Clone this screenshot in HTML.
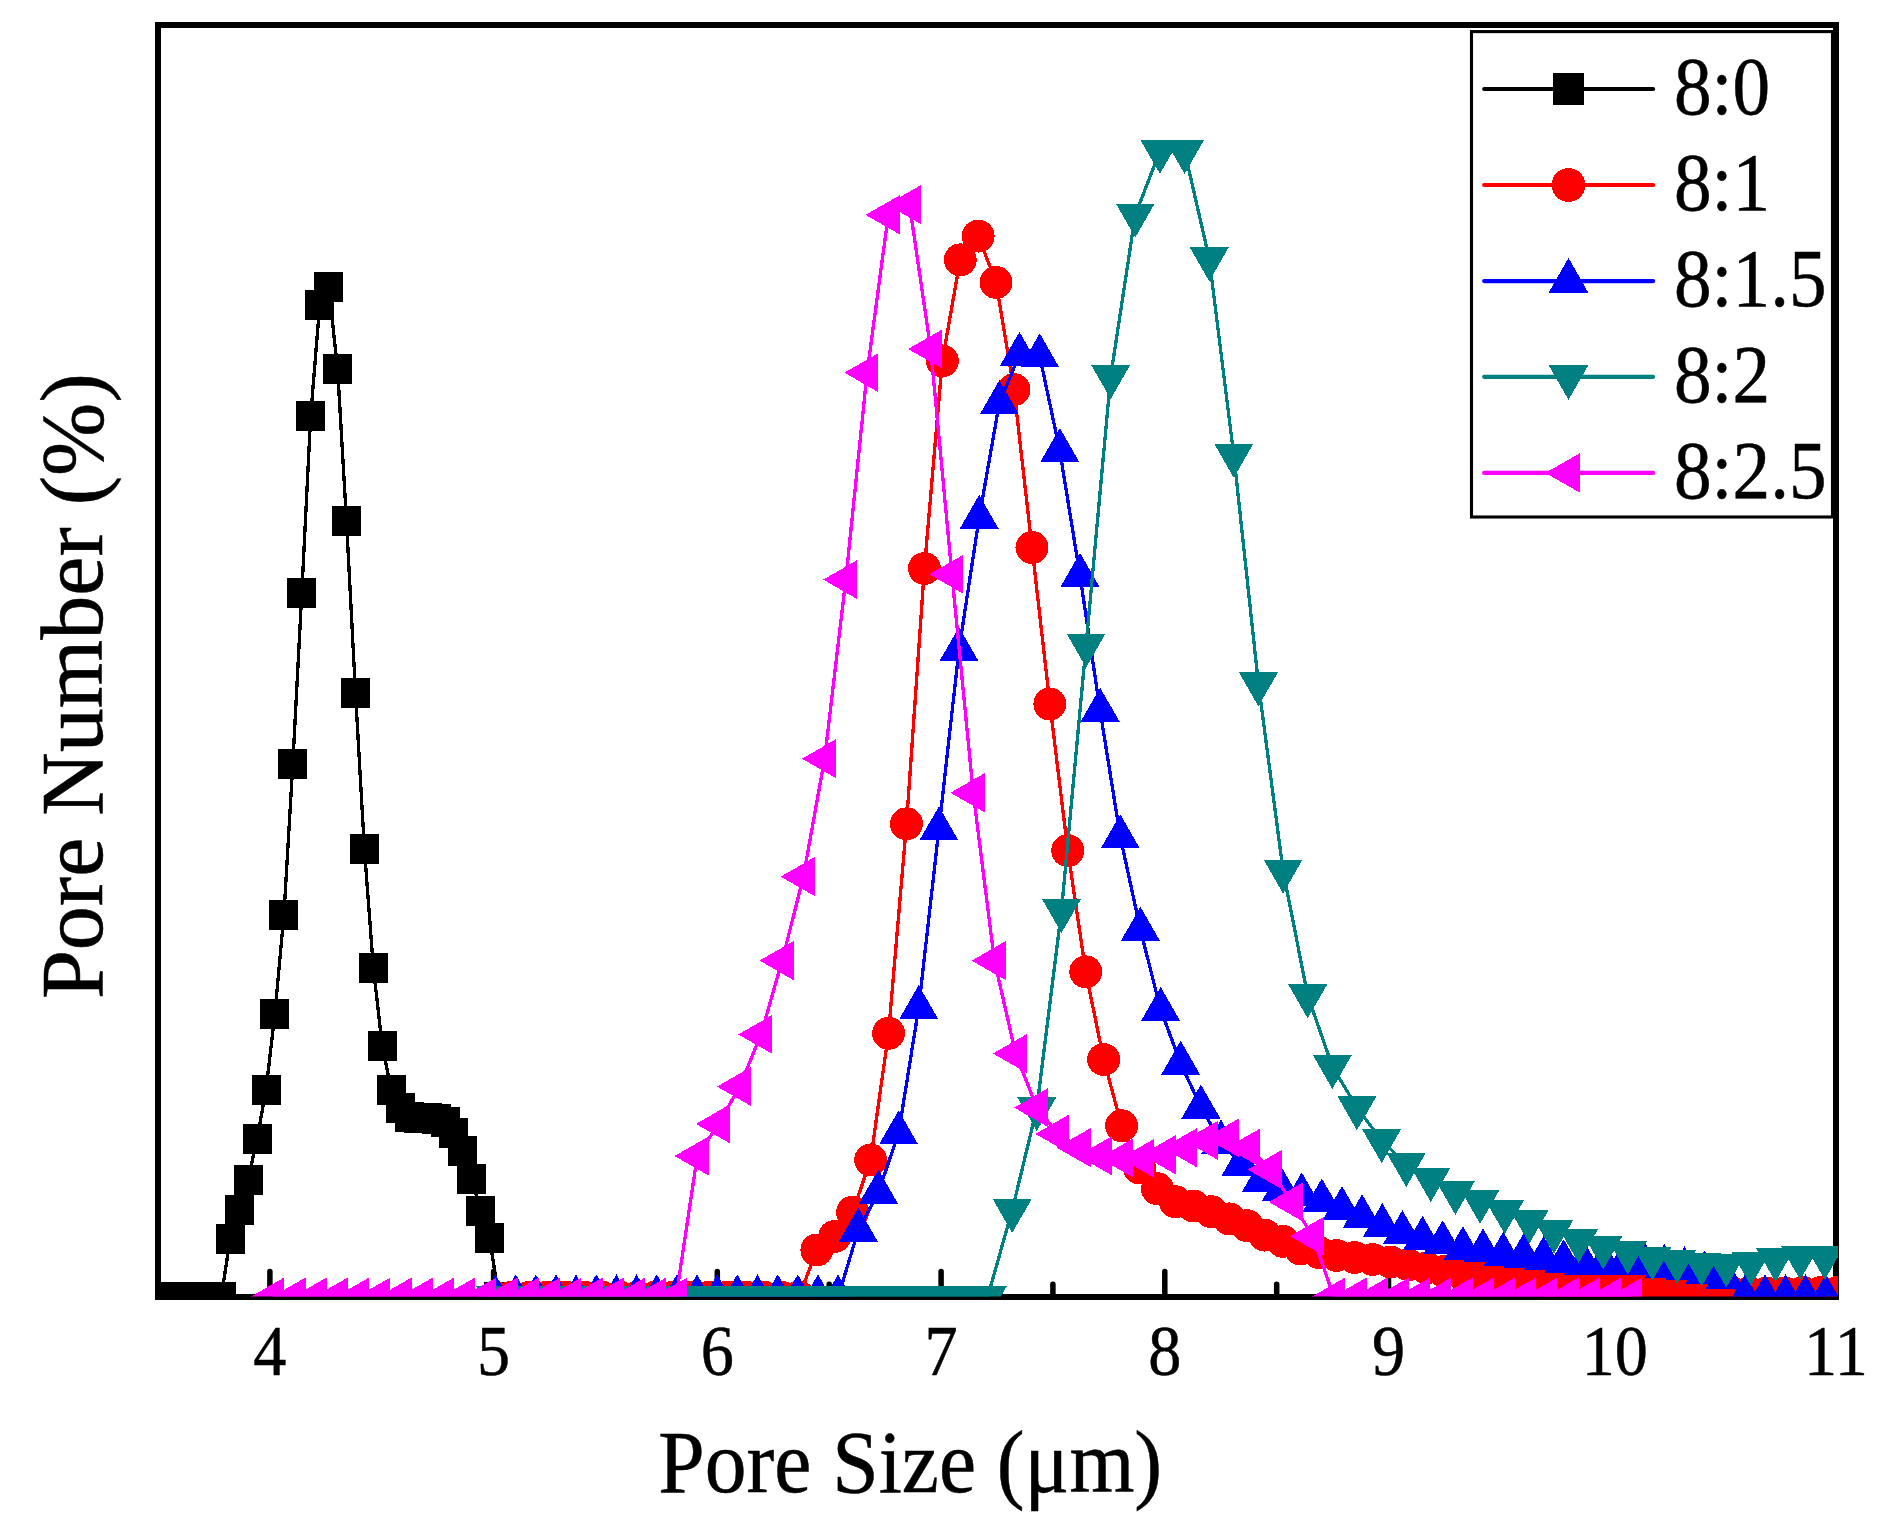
<!DOCTYPE html>
<html lang="en"><head><meta charset="utf-8"><title>Pore size distribution</title>
<style>html,body{margin:0;padding:0;background:#fff}svg{display:block}text{font-family:"Liberation Serif","Times New Roman",serif;fill:#000;stroke:#000;stroke-width:0.5px}</style></head>
<body>
<svg width="1890" height="1523" viewBox="0 0 1890 1523">
<rect width="1890" height="1523" fill="#fff"/>
<defs><clipPath id="c"><rect x="155" y="25" width="1683" height="1271.6"/></clipPath></defs>
<rect x="158" y="25" width="1678" height="1272" fill="none" stroke="#000" stroke-width="6"/>
<path d="M269.9 1297V1271.5M493.6 1297V1271.5M717.3 1297V1271.5M941.1 1297V1271.5M1164.8 1297V1271.5M1388.5 1297V1271.5M1612.3 1297V1271.5M381.7 1297V1287M605.5 1297V1287M829.2 1297V1284.3M1052.9 1297V1284.3M1276.7 1297V1284.3M1500.4 1297V1284.3M1724.1 1297V1284.3" stroke="#000" stroke-width="5.5" stroke-linecap="round" fill="none"/>
<g clip-path="url(#c)" shape-rendering="crispEdges">
<path d="M158.6 1297L167.5 1297L176.5 1297L185.4 1297L194.4 1297L203.3 1297L212.3 1297L221.2 1297L230.2 1238.9L239.1 1209.5L248.1 1179.5L257 1139.1L266 1090L274.9 1013.8L283.9 914.9L292.8 764.1L301.8 592.7L310.7 415.7L319.7 304.9L328.6 286.8L337.6 368.7L346.5 520.8L355.5 693L364.4 849L373.4 968L382.3 1046.4L391.3 1089.5L400.2 1108.4L409.2 1116.8L418.1 1117.6L427.1 1118.1L436 1118.6L445 1121.5L453.9 1133.3L462.9 1151.4L471.8 1179.3L480.8 1210.5L489.7 1238.4L498.7 1297" fill="none" stroke="#000000" stroke-width="3.3" stroke-linejoin="round"/>
<path d="M144.1 1282h29v30h-29zM153 1282h29v30h-29zM162 1282h29v30h-29zM170.9 1282h29v30h-29zM179.9 1282h29v30h-29zM188.8 1282h29v30h-29zM197.8 1282h29v30h-29zM206.7 1282h29v30h-29zM215.7 1223.9h29v30h-29zM224.6 1194.5h29v30h-29zM233.6 1164.5h29v30h-29zM242.5 1124.1h29v30h-29zM251.5 1075h29v30h-29zM260.4 998.8h29v30h-29zM269.4 899.9h29v30h-29zM278.3 749.1h29v30h-29zM287.3 577.7h29v30h-29zM296.2 400.7h29v30h-29zM305.2 289.9h29v30h-29zM314.1 271.8h29v30h-29zM323.1 353.7h29v30h-29zM332 505.8h29v30h-29zM341 678h29v30h-29zM349.9 834h29v30h-29zM358.9 953h29v30h-29zM367.8 1031.4h29v30h-29zM376.8 1074.5h29v30h-29zM385.7 1093.4h29v30h-29zM394.7 1101.8h29v30h-29zM403.6 1102.6h29v30h-29zM412.6 1103.1h29v30h-29zM421.5 1103.6h29v30h-29zM430.5 1106.5h29v30h-29zM439.4 1118.3h29v30h-29zM448.4 1136.4h29v30h-29zM457.3 1164.3h29v30h-29zM466.3 1195.5h29v30h-29zM475.2 1223.4h29v30h-29zM484.2 1282h29v30h-29z" fill="#000000"/>
<path d="M494.2 1297L512.1 1297L530 1297L548 1297L565.9 1297L583.8 1297L601.8 1297L619.7 1297L637.6 1297L655.5 1297L673.5 1297L691.4 1297L709.3 1297L727.2 1297L745.1 1297L763.1 1297L781 1297L798.9 1297L816.9 1250L834.8 1236.4L852.7 1212.2L870.6 1159.9L888.5 1033.3L906.5 823.8L924.4 568.5L942.3 360.9L960.2 259.8L978.2 236.1L996.1 282.4L1014 389.6L1032 547.5L1049.9 704L1067.8 850.6L1085.7 971.8L1103.7 1059.5L1121.6 1125.7L1139.5 1168L1157.4 1188.7L1175.3 1201.7L1193.3 1206L1211.2 1211.7L1229.1 1218.9L1247 1225.7L1265 1235.1L1282.9 1241.4L1300.8 1249L1318.8 1252.5L1336.7 1255.5L1354.6 1257.5L1372.5 1259.5L1390.5 1262L1408.4 1264.8L1426.3 1268L1444.2 1271.5L1462.2 1274L1480.1 1275.5L1498 1277L1515.9 1278.5L1533.9 1280L1551.8 1281.5L1569.7 1283L1587.6 1284.5L1605.6 1286L1623.5 1287L1641.4 1288L1659.3 1289L1677.2 1290L1695.2 1291L1713.1 1292L1731 1292.5L1749 1293L1766.9 1293L1784.8 1293L1802.7 1292.5L1820.7 1292.5L1838.6 1292" fill="none" stroke="#ff0000" stroke-width="3.3" stroke-linejoin="round"/>
<path d="M477.8 1297a16.4 16.4 0 1 0 32.9 0a16.4 16.4 0 1 0 -32.9 0zM495.7 1297a16.4 16.4 0 1 0 32.9 0a16.4 16.4 0 1 0 -32.9 0zM513.6 1297a16.4 16.4 0 1 0 32.9 0a16.4 16.4 0 1 0 -32.9 0zM531.5 1297a16.4 16.4 0 1 0 32.9 0a16.4 16.4 0 1 0 -32.9 0zM549.4 1297a16.4 16.4 0 1 0 32.9 0a16.4 16.4 0 1 0 -32.9 0zM567.4 1297a16.4 16.4 0 1 0 32.9 0a16.4 16.4 0 1 0 -32.9 0zM585.3 1297a16.4 16.4 0 1 0 32.9 0a16.4 16.4 0 1 0 -32.9 0zM603.2 1297a16.4 16.4 0 1 0 32.9 0a16.4 16.4 0 1 0 -32.9 0zM621.1 1297a16.4 16.4 0 1 0 32.9 0a16.4 16.4 0 1 0 -32.9 0zM639.1 1297a16.4 16.4 0 1 0 32.9 0a16.4 16.4 0 1 0 -32.9 0zM657 1297a16.4 16.4 0 1 0 32.9 0a16.4 16.4 0 1 0 -32.9 0zM674.9 1297a16.4 16.4 0 1 0 32.9 0a16.4 16.4 0 1 0 -32.9 0zM692.8 1297a16.4 16.4 0 1 0 32.9 0a16.4 16.4 0 1 0 -32.9 0zM710.8 1297a16.4 16.4 0 1 0 32.9 0a16.4 16.4 0 1 0 -32.9 0zM728.7 1297a16.4 16.4 0 1 0 32.9 0a16.4 16.4 0 1 0 -32.9 0zM746.6 1297a16.4 16.4 0 1 0 32.9 0a16.4 16.4 0 1 0 -32.9 0zM764.5 1297a16.4 16.4 0 1 0 32.9 0a16.4 16.4 0 1 0 -32.9 0zM782.5 1297a16.4 16.4 0 1 0 32.9 0a16.4 16.4 0 1 0 -32.9 0zM800.4 1250a16.4 16.4 0 1 0 32.9 0a16.4 16.4 0 1 0 -32.9 0zM818.3 1236.4a16.4 16.4 0 1 0 32.9 0a16.4 16.4 0 1 0 -32.9 0zM836.2 1212.2a16.4 16.4 0 1 0 32.9 0a16.4 16.4 0 1 0 -32.9 0zM854.2 1159.9a16.4 16.4 0 1 0 32.9 0a16.4 16.4 0 1 0 -32.9 0zM872.1 1033.3a16.4 16.4 0 1 0 32.9 0a16.4 16.4 0 1 0 -32.9 0zM890 823.8a16.4 16.4 0 1 0 32.9 0a16.4 16.4 0 1 0 -32.9 0zM908 568.5a16.4 16.4 0 1 0 32.9 0a16.4 16.4 0 1 0 -32.9 0zM925.9 360.9a16.4 16.4 0 1 0 32.9 0a16.4 16.4 0 1 0 -32.9 0zM943.8 259.8a16.4 16.4 0 1 0 32.9 0a16.4 16.4 0 1 0 -32.9 0zM961.7 236.1a16.4 16.4 0 1 0 32.9 0a16.4 16.4 0 1 0 -32.9 0zM979.6 282.4a16.4 16.4 0 1 0 32.9 0a16.4 16.4 0 1 0 -32.9 0zM997.6 389.6a16.4 16.4 0 1 0 32.9 0a16.4 16.4 0 1 0 -32.9 0zM1015.5 547.5a16.4 16.4 0 1 0 32.9 0a16.4 16.4 0 1 0 -32.9 0zM1033.4 704a16.4 16.4 0 1 0 32.9 0a16.4 16.4 0 1 0 -32.9 0zM1051.3 850.6a16.4 16.4 0 1 0 32.9 0a16.4 16.4 0 1 0 -32.9 0zM1069.3 971.8a16.4 16.4 0 1 0 32.9 0a16.4 16.4 0 1 0 -32.9 0zM1087.2 1059.5a16.4 16.4 0 1 0 32.9 0a16.4 16.4 0 1 0 -32.9 0zM1105.1 1125.7a16.4 16.4 0 1 0 32.9 0a16.4 16.4 0 1 0 -32.9 0zM1123 1168a16.4 16.4 0 1 0 32.9 0a16.4 16.4 0 1 0 -32.9 0zM1141 1188.7a16.4 16.4 0 1 0 32.9 0a16.4 16.4 0 1 0 -32.9 0zM1158.9 1201.7a16.4 16.4 0 1 0 32.9 0a16.4 16.4 0 1 0 -32.9 0zM1176.8 1206a16.4 16.4 0 1 0 32.9 0a16.4 16.4 0 1 0 -32.9 0zM1194.8 1211.7a16.4 16.4 0 1 0 32.9 0a16.4 16.4 0 1 0 -32.9 0zM1212.7 1218.9a16.4 16.4 0 1 0 32.9 0a16.4 16.4 0 1 0 -32.9 0zM1230.6 1225.7a16.4 16.4 0 1 0 32.9 0a16.4 16.4 0 1 0 -32.9 0zM1248.5 1235.1a16.4 16.4 0 1 0 32.9 0a16.4 16.4 0 1 0 -32.9 0zM1266.5 1241.4a16.4 16.4 0 1 0 32.9 0a16.4 16.4 0 1 0 -32.9 0zM1284.4 1249a16.4 16.4 0 1 0 32.9 0a16.4 16.4 0 1 0 -32.9 0zM1302.3 1252.5a16.4 16.4 0 1 0 32.9 0a16.4 16.4 0 1 0 -32.9 0zM1320.2 1255.5a16.4 16.4 0 1 0 32.9 0a16.4 16.4 0 1 0 -32.9 0zM1338.2 1257.5a16.4 16.4 0 1 0 32.9 0a16.4 16.4 0 1 0 -32.9 0zM1356.1 1259.5a16.4 16.4 0 1 0 32.9 0a16.4 16.4 0 1 0 -32.9 0zM1374 1262a16.4 16.4 0 1 0 32.9 0a16.4 16.4 0 1 0 -32.9 0zM1391.9 1264.8a16.4 16.4 0 1 0 32.9 0a16.4 16.4 0 1 0 -32.9 0zM1409.8 1268a16.4 16.4 0 1 0 32.9 0a16.4 16.4 0 1 0 -32.9 0zM1427.8 1271.5a16.4 16.4 0 1 0 32.9 0a16.4 16.4 0 1 0 -32.9 0zM1445.7 1274a16.4 16.4 0 1 0 32.9 0a16.4 16.4 0 1 0 -32.9 0zM1463.6 1275.5a16.4 16.4 0 1 0 32.9 0a16.4 16.4 0 1 0 -32.9 0zM1481.5 1277a16.4 16.4 0 1 0 32.9 0a16.4 16.4 0 1 0 -32.9 0zM1499.5 1278.5a16.4 16.4 0 1 0 32.9 0a16.4 16.4 0 1 0 -32.9 0zM1517.4 1280a16.4 16.4 0 1 0 32.9 0a16.4 16.4 0 1 0 -32.9 0zM1535.3 1281.5a16.4 16.4 0 1 0 32.9 0a16.4 16.4 0 1 0 -32.9 0zM1553.2 1283a16.4 16.4 0 1 0 32.9 0a16.4 16.4 0 1 0 -32.9 0zM1571.2 1284.5a16.4 16.4 0 1 0 32.9 0a16.4 16.4 0 1 0 -32.9 0zM1589.1 1286a16.4 16.4 0 1 0 32.9 0a16.4 16.4 0 1 0 -32.9 0zM1607 1287a16.4 16.4 0 1 0 32.9 0a16.4 16.4 0 1 0 -32.9 0zM1625 1288a16.4 16.4 0 1 0 32.9 0a16.4 16.4 0 1 0 -32.9 0zM1642.9 1289a16.4 16.4 0 1 0 32.9 0a16.4 16.4 0 1 0 -32.9 0zM1660.8 1290a16.4 16.4 0 1 0 32.9 0a16.4 16.4 0 1 0 -32.9 0zM1678.7 1291a16.4 16.4 0 1 0 32.9 0a16.4 16.4 0 1 0 -32.9 0zM1696.7 1292a16.4 16.4 0 1 0 32.9 0a16.4 16.4 0 1 0 -32.9 0zM1714.6 1292.5a16.4 16.4 0 1 0 32.9 0a16.4 16.4 0 1 0 -32.9 0zM1732.5 1293a16.4 16.4 0 1 0 32.9 0a16.4 16.4 0 1 0 -32.9 0zM1750.4 1293a16.4 16.4 0 1 0 32.9 0a16.4 16.4 0 1 0 -32.9 0zM1768.4 1293a16.4 16.4 0 1 0 32.9 0a16.4 16.4 0 1 0 -32.9 0zM1786.3 1292.5a16.4 16.4 0 1 0 32.9 0a16.4 16.4 0 1 0 -32.9 0zM1804.2 1292.5a16.4 16.4 0 1 0 32.9 0a16.4 16.4 0 1 0 -32.9 0zM1822.1 1292a16.4 16.4 0 1 0 32.9 0a16.4 16.4 0 1 0 -32.9 0z" fill="#ff0000"/>
<path d="M495.5 1297L515.7 1297L535.8 1297L556 1297L576.1 1297L596.3 1297L616.4 1297L636.6 1297L656.7 1297L676.9 1297L697 1297L717.2 1297L737.3 1297L757.5 1297L777.7 1297L797.8 1297L818 1297L838.1 1297L858.3 1230.3L878.4 1192.2L898.6 1133.1L918.7 1007.8L938.9 829.1L959 649.7L979.2 517.5L999.4 402.9L1019.5 354.5L1039.7 356L1059.8 450.7L1080 575.5L1100.1 710.3L1120.3 837L1140.4 929.5L1160.6 1009.6L1180.7 1063.4L1200.9 1107.2L1221 1142.2L1241.2 1164.2L1261.4 1180.6L1281.5 1189.5L1301.7 1195L1321.8 1201L1342 1208.8L1362.1 1216.8L1382.3 1225.7L1402.4 1232.8L1422.6 1238.5L1442.7 1242.9L1462.9 1248.8L1483 1250.9L1503.2 1254.4L1523.4 1256.2L1543.5 1258.9L1563.7 1261.9L1583.8 1263.5L1604 1264L1624.1 1264L1644.3 1264.1L1664.4 1266.4L1684.6 1269L1704.7 1273L1724.9 1278L1745 1297L1765.2 1297L1785.4 1297L1805.5 1297L1825.7 1297" fill="none" stroke="#0000ff" stroke-width="3.3" stroke-linejoin="round"/>
<path d="M495.5 1274.3L515 1308.3L476 1308.3zM515.7 1274.3L535.2 1308.3L496.2 1308.3zM535.8 1274.3L555.3 1308.3L516.3 1308.3zM556 1274.3L575.5 1308.3L536.5 1308.3zM576.1 1274.3L595.6 1308.3L556.6 1308.3zM596.3 1274.3L615.8 1308.3L576.8 1308.3zM616.4 1274.3L635.9 1308.3L596.9 1308.3zM636.6 1274.3L656.1 1308.3L617.1 1308.3zM656.7 1274.3L676.2 1308.3L637.2 1308.3zM676.9 1274.3L696.4 1308.3L657.4 1308.3zM697 1274.3L716.5 1308.3L677.5 1308.3zM717.2 1274.3L736.7 1308.3L697.7 1308.3zM737.3 1274.3L756.8 1308.3L717.8 1308.3zM757.5 1274.3L777 1308.3L738 1308.3zM777.7 1274.3L797.2 1308.3L758.2 1308.3zM797.8 1274.3L817.3 1308.3L778.3 1308.3zM818 1274.3L837.5 1308.3L798.5 1308.3zM838.1 1274.3L857.6 1308.3L818.6 1308.3zM858.3 1207.6L877.8 1241.6L838.8 1241.6zM878.4 1169.5L897.9 1203.5L858.9 1203.5zM898.6 1110.4L918.1 1144.4L879.1 1144.4zM918.7 985.1L938.2 1019.1L899.2 1019.1zM938.9 806.4L958.4 840.4L919.4 840.4zM959 627L978.5 661L939.5 661zM979.2 494.8L998.7 528.8L959.7 528.8zM999.4 380.2L1018.9 414.2L979.9 414.2zM1019.5 331.8L1039 365.8L1000 365.8zM1039.7 333.3L1059.2 367.3L1020.2 367.3zM1059.8 428L1079.3 462L1040.3 462zM1080 552.8L1099.5 586.8L1060.5 586.8zM1100.1 687.6L1119.6 721.6L1080.6 721.6zM1120.3 814.3L1139.8 848.3L1100.8 848.3zM1140.4 906.8L1159.9 940.8L1120.9 940.8zM1160.6 986.9L1180.1 1020.9L1141.1 1020.9zM1180.7 1040.7L1200.2 1074.7L1161.2 1074.7zM1200.9 1084.5L1220.4 1118.5L1181.4 1118.5zM1221 1119.5L1240.5 1153.5L1201.5 1153.5zM1241.2 1141.5L1260.7 1175.5L1221.7 1175.5zM1261.4 1157.9L1280.9 1191.9L1241.9 1191.9zM1281.5 1166.8L1301 1200.8L1262 1200.8zM1301.7 1172.3L1321.2 1206.3L1282.2 1206.3zM1321.8 1178.3L1341.3 1212.3L1302.3 1212.3zM1342 1186.1L1361.5 1220.1L1322.5 1220.1zM1362.1 1194.1L1381.6 1228.1L1342.6 1228.1zM1382.3 1203L1401.8 1237L1362.8 1237zM1402.4 1210.1L1421.9 1244.1L1382.9 1244.1zM1422.6 1215.8L1442.1 1249.8L1403.1 1249.8zM1442.7 1220.2L1462.2 1254.2L1423.2 1254.2zM1462.9 1226.1L1482.4 1260.1L1443.4 1260.1zM1483 1228.2L1502.5 1262.2L1463.5 1262.2zM1503.2 1231.7L1522.7 1265.7L1483.7 1265.7zM1523.4 1233.5L1542.9 1267.5L1503.9 1267.5zM1543.5 1236.2L1563 1270.2L1524 1270.2zM1563.7 1239.2L1583.2 1273.2L1544.2 1273.2zM1583.8 1240.8L1603.3 1274.8L1564.3 1274.8zM1604 1241.3L1623.5 1275.3L1584.5 1275.3zM1624.1 1241.3L1643.6 1275.3L1604.6 1275.3zM1644.3 1241.4L1663.8 1275.4L1624.8 1275.4zM1664.4 1243.7L1683.9 1277.7L1644.9 1277.7zM1684.6 1246.3L1704.1 1280.3L1665.1 1280.3zM1704.7 1250.3L1724.2 1284.3L1685.2 1284.3zM1724.9 1255.3L1744.4 1289.3L1705.4 1289.3zM1745 1274.3L1764.5 1308.3L1725.5 1308.3zM1765.2 1274.3L1784.7 1308.3L1745.7 1308.3zM1785.4 1274.3L1804.9 1308.3L1765.9 1308.3zM1805.5 1274.3L1825 1308.3L1786 1308.3zM1825.7 1274.3L1845.2 1308.3L1806.2 1308.3z" fill="#0000ff"/>
<path d="M495.1 1297L519.7 1297L544.3 1297L569 1297L593.6 1297L618.2 1297L642.8 1297L667.5 1297L692.1 1297L716.7 1297L741.3 1297L766 1297L790.6 1297L815.2 1297L839.8 1297L864.5 1297L889.1 1297L913.7 1297L938.3 1297L963 1297L987.6 1297L1012.2 1210.3L1036.8 1108.5L1061.5 910.3L1086.1 644.9L1110.7 376.3L1135.3 214.8L1159.9 151.2L1184.6 151.2L1209.2 258.6L1233.8 455.1L1258.4 683.7L1283.1 870.9L1307.7 995.7L1332.3 1066.3L1356.9 1107.6L1381.6 1140.4L1406.2 1164.4L1430.8 1179.4L1455.4 1192.2L1480.1 1201.1L1504.7 1211.3L1529.3 1221.1L1553.9 1231.2L1578.6 1240.3L1603.2 1246.9L1627.8 1251.9L1652.4 1257.9L1677.1 1260.9L1701.7 1263.8L1726.3 1264.9L1750.9 1263.1L1775.5 1259.2L1800.2 1257.2L1824.8 1257.2" fill="none" stroke="#008080" stroke-width="3.3" stroke-linejoin="round"/>
<path d="M495.1 1319.7L514.6 1285.7L475.6 1285.7zM519.7 1319.7L539.2 1285.7L500.2 1285.7zM544.3 1319.7L563.8 1285.7L524.8 1285.7zM569 1319.7L588.5 1285.7L549.5 1285.7zM593.6 1319.7L613.1 1285.7L574.1 1285.7zM618.2 1319.7L637.7 1285.7L598.7 1285.7zM642.8 1319.7L662.3 1285.7L623.3 1285.7zM667.5 1319.7L687 1285.7L648 1285.7zM692.1 1319.7L711.6 1285.7L672.6 1285.7zM716.7 1319.7L736.2 1285.7L697.2 1285.7zM741.3 1319.7L760.8 1285.7L721.8 1285.7zM766 1319.7L785.5 1285.7L746.5 1285.7zM790.6 1319.7L810.1 1285.7L771.1 1285.7zM815.2 1319.7L834.7 1285.7L795.7 1285.7zM839.8 1319.7L859.3 1285.7L820.3 1285.7zM864.5 1319.7L884 1285.7L845 1285.7zM889.1 1319.7L908.6 1285.7L869.6 1285.7zM913.7 1319.7L933.2 1285.7L894.2 1285.7zM938.3 1319.7L957.8 1285.7L918.8 1285.7zM963 1319.7L982.5 1285.7L943.5 1285.7zM987.6 1319.7L1007.1 1285.7L968.1 1285.7zM1012.2 1233L1031.7 1199L992.7 1199zM1036.8 1131.2L1056.3 1097.2L1017.3 1097.2zM1061.5 933L1081 899L1042 899zM1086.1 667.6L1105.6 633.6L1066.6 633.6zM1110.7 399L1130.2 365L1091.2 365zM1135.3 237.5L1154.8 203.5L1115.8 203.5zM1159.9 173.9L1179.4 139.9L1140.4 139.9zM1184.6 173.9L1204.1 139.9L1165.1 139.9zM1209.2 281.3L1228.7 247.3L1189.7 247.3zM1233.8 477.8L1253.3 443.8L1214.3 443.8zM1258.4 706.4L1277.9 672.4L1238.9 672.4zM1283.1 893.6L1302.6 859.6L1263.6 859.6zM1307.7 1018.4L1327.2 984.4L1288.2 984.4zM1332.3 1089L1351.8 1055L1312.8 1055zM1356.9 1130.3L1376.4 1096.3L1337.4 1096.3zM1381.6 1163.1L1401.1 1129.1L1362.1 1129.1zM1406.2 1187.1L1425.7 1153.1L1386.7 1153.1zM1430.8 1202.1L1450.3 1168.1L1411.3 1168.1zM1455.4 1214.9L1474.9 1180.9L1435.9 1180.9zM1480.1 1223.8L1499.6 1189.8L1460.6 1189.8zM1504.7 1234L1524.2 1200L1485.2 1200zM1529.3 1243.8L1548.8 1209.8L1509.8 1209.8zM1553.9 1253.9L1573.4 1219.9L1534.4 1219.9zM1578.6 1263L1598.1 1229L1559.1 1229zM1603.2 1269.6L1622.7 1235.6L1583.7 1235.6zM1627.8 1274.6L1647.3 1240.6L1608.3 1240.6zM1652.4 1280.6L1671.9 1246.6L1632.9 1246.6zM1677.1 1283.6L1696.6 1249.6L1657.6 1249.6zM1701.7 1286.5L1721.2 1252.5L1682.2 1252.5zM1726.3 1287.6L1745.8 1253.6L1706.8 1253.6zM1750.9 1285.8L1770.4 1251.8L1731.4 1251.8zM1775.5 1281.9L1795 1247.9L1756 1247.9zM1800.2 1279.9L1819.7 1245.9L1780.7 1245.9zM1824.8 1279.9L1844.3 1245.9L1805.3 1245.9z" fill="#008080"/>
<path d="M272.9 1297L294.1 1297L315.3 1297L336.6 1297L357.8 1297L379 1297L400.2 1297L421.4 1297L442.7 1297L463.9 1297L485.1 1297L506.3 1297L527.5 1297L548.8 1297L570 1297L591.2 1297L612.4 1297L633.6 1297L654.9 1297L676.1 1297L697.3 1156L718.5 1123.9L739.7 1086.6L761 1034.4L782.2 960.6L803.4 876.6L824.6 758.7L845.8 579.6L867.1 372.7L888.3 214.9L909.5 204.6L930.7 349L951.9 574.3L973.2 792.8L994.4 960.6L1015.6 1053.5L1036.8 1107.6L1058 1133.9L1079.3 1147.6L1100.5 1155.8L1121.7 1158L1142.9 1158.3L1164.1 1154.8L1185.4 1147.8L1206.6 1140.4L1227.8 1137.9L1249 1147.8L1270.2 1169.6L1291.5 1202L1312.7 1236.2L1333.9 1297L1355.1 1297L1376.3 1297L1397.6 1297L1418.8 1297L1440 1297L1461.2 1297L1482.4 1297L1503.7 1297L1524.9 1297L1546.1 1297L1567.3 1297L1588.5 1297L1609.8 1297L1631 1297" fill="none" stroke="#ff00ff" stroke-width="3.3" stroke-linejoin="round"/>
<path d="M250.2 1297L284.2 1277.5L284.2 1316.5zM271.5 1297L305.5 1277.5L305.5 1316.5zM292.7 1297L326.7 1277.5L326.7 1316.5zM313.9 1297L347.9 1277.5L347.9 1316.5zM335.1 1297L369.1 1277.5L369.1 1316.5zM356.3 1297L390.3 1277.5L390.3 1316.5zM377.6 1297L411.6 1277.5L411.6 1316.5zM398.8 1297L432.8 1277.5L432.8 1316.5zM420 1297L454 1277.5L454 1316.5zM441.2 1297L475.2 1277.5L475.2 1316.5zM462.4 1297L496.4 1277.5L496.4 1316.5zM483.7 1297L517.7 1277.5L517.7 1316.5zM504.9 1297L538.9 1277.5L538.9 1316.5zM526.1 1297L560.1 1277.5L560.1 1316.5zM547.3 1297L581.3 1277.5L581.3 1316.5zM568.5 1297L602.5 1277.5L602.5 1316.5zM589.8 1297L623.8 1277.5L623.8 1316.5zM611 1297L645 1277.5L645 1316.5zM632.2 1297L666.2 1277.5L666.2 1316.5zM653.4 1297L687.4 1277.5L687.4 1316.5zM674.6 1156L708.6 1136.5L708.6 1175.5zM695.9 1123.9L729.9 1104.4L729.9 1143.4zM717.1 1086.6L751.1 1067.1L751.1 1106.1zM738.3 1034.4L772.3 1014.9L772.3 1053.9zM759.5 960.6L793.5 941.1L793.5 980.1zM780.7 876.6L814.7 857.1L814.7 896.1zM802 758.7L836 739.2L836 778.2zM823.2 579.6L857.2 560.1L857.2 599.1zM844.4 372.7L878.4 353.2L878.4 392.2zM865.6 214.9L899.6 195.4L899.6 234.4zM886.8 204.6L920.8 185.1L920.8 224.1zM908.1 349L942.1 329.5L942.1 368.5zM929.3 574.3L963.3 554.8L963.3 593.8zM950.5 792.8L984.5 773.3L984.5 812.3zM971.7 960.6L1005.7 941.1L1005.7 980.1zM992.9 1053.5L1026.9 1034L1026.9 1073zM1014.2 1107.6L1048.2 1088.1L1048.2 1127.1zM1035.4 1133.9L1069.4 1114.4L1069.4 1153.4zM1056.6 1147.6L1090.6 1128.1L1090.6 1167.1zM1077.8 1155.8L1111.8 1136.3L1111.8 1175.3zM1099 1158L1133 1138.5L1133 1177.5zM1120.3 1158.3L1154.3 1138.8L1154.3 1177.8zM1141.5 1154.8L1175.5 1135.3L1175.5 1174.3zM1162.7 1147.8L1196.7 1128.3L1196.7 1167.3zM1183.9 1140.4L1217.9 1120.9L1217.9 1159.9zM1205.1 1137.9L1239.1 1118.4L1239.1 1157.4zM1226.4 1147.8L1260.4 1128.3L1260.4 1167.3zM1247.6 1169.6L1281.6 1150.1L1281.6 1189.1zM1268.8 1202L1302.8 1182.5L1302.8 1221.5zM1290 1236.2L1324 1216.7L1324 1255.7zM1311.2 1297L1345.2 1277.5L1345.2 1316.5zM1332.5 1297L1366.5 1277.5L1366.5 1316.5zM1353.7 1297L1387.7 1277.5L1387.7 1316.5zM1374.9 1297L1408.9 1277.5L1408.9 1316.5zM1396.1 1297L1430.1 1277.5L1430.1 1316.5zM1417.3 1297L1451.3 1277.5L1451.3 1316.5zM1438.6 1297L1472.6 1277.5L1472.6 1316.5zM1459.8 1297L1493.8 1277.5L1493.8 1316.5zM1481 1297L1515 1277.5L1515 1316.5zM1502.2 1297L1536.2 1277.5L1536.2 1316.5zM1523.4 1297L1557.4 1277.5L1557.4 1316.5zM1544.7 1297L1578.7 1277.5L1578.7 1316.5zM1565.9 1297L1599.9 1277.5L1599.9 1316.5zM1587.1 1297L1621.1 1277.5L1621.1 1316.5zM1608.3 1297L1642.3 1277.5L1642.3 1316.5z" fill="#ff00ff"/>
</g>
<g font-size="72" text-anchor="middle">
<text transform="translate(269.9 1374.6) scale(0.92 1)">4</text>
<text transform="translate(493.6 1374.6) scale(0.92 1)">5</text>
<text transform="translate(717.3 1374.6) scale(0.92 1)">6</text>
<text transform="translate(941.1 1374.6) scale(0.92 1)">7</text>
<text transform="translate(1164.8 1374.6) scale(0.92 1)">8</text>
<text transform="translate(1388.5 1374.6) scale(0.92 1)">9</text>
<text transform="translate(1614.8 1374.6) scale(0.92 1)">10</text>
<text transform="translate(1836 1374.6) scale(0.92 1)">11</text>
</g>
<text transform="translate(910.2 1491.5) scale(0.949 1)" font-size="88" text-anchor="middle">Pore Size (μm)</text>
<text transform="translate(102 686.2) rotate(-90) scale(1.0005 1)" font-size="88" text-anchor="middle">Pore Number (%)</text>
<rect x="1471.5" y="31.6" width="361" height="485.4" fill="#fff" stroke="#000" stroke-width="3.1"/>
<path d="M1484.2 89H1653.1" stroke="#000000" stroke-width="4.2" stroke-linecap="round" fill="none"/><path d="M1553 73h31v32h-31z" fill="#000000" shape-rendering="crispEdges"/><text transform="translate(1674 114.3) scale(0.92 1)" font-size="81.8">8:0</text>
<path d="M1484.2 185H1653.1" stroke="#ff0000" stroke-width="4.2" stroke-linecap="round" fill="none"/><path d="M1551.6 185a16.9 16.9 0 1 0 33.8 0a16.9 16.9 0 1 0 -33.8 0z" fill="#ff0000" shape-rendering="crispEdges"/><text transform="translate(1674 210.3) scale(0.92 1)" font-size="81.8">8:1</text>
<path d="M1484.2 281.1H1653.1" stroke="#0000ff" stroke-width="4.2" stroke-linecap="round" fill="none"/><path d="M1568.5 257.9L1588.3 292.7L1548.7 292.7z" fill="#0000ff" shape-rendering="crispEdges"/><text transform="translate(1674 306.4) scale(0.92 1)" font-size="81.8">8:1.5</text>
<path d="M1484.2 376.8H1653.1" stroke="#008080" stroke-width="4.2" stroke-linecap="round" fill="none"/><path d="M1568.5 400L1588.3 365.2L1548.7 365.2z" fill="#008080" shape-rendering="crispEdges"/><text transform="translate(1674 402.1) scale(0.92 1)" font-size="81.8">8:2</text>
<path d="M1484.2 472.9H1653.1" stroke="#ff00ff" stroke-width="4.2" stroke-linecap="round" fill="none"/><path d="M1545.3 472.9L1580.1 453.1L1580.1 492.7z" fill="#ff00ff" shape-rendering="crispEdges"/><text transform="translate(1674 498.2) scale(0.92 1)" font-size="81.8">8:2.5</text>
</svg>
</body></html>
